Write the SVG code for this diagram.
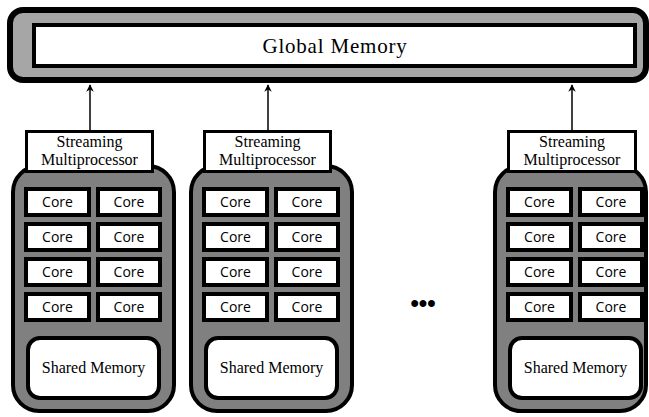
<svg xmlns="http://www.w3.org/2000/svg" xmlns:xlink="http://www.w3.org/1999/xlink" width="649" height="417" viewBox="0 0 649 417">
<style>
.gm-outer{fill:#a6a6a6;stroke:#000;stroke-width:6}
.gm-inner{fill:#fff;stroke:#000;stroke-width:4}
.cluster{fill:#808080;stroke:#000;stroke-width:4}
.label{fill:#fff;stroke:#000;stroke-width:3}
.core{fill:#fff;stroke:#000;stroke-width:4}
.shared{fill:#fff;stroke:#000;stroke-width:4}
.serif{font-family:"Liberation Serif","Times New Roman",serif;fill:#000;text-anchor:middle}
.sans{font-family:"Open Sans","Noto Sans",sans-serif;font-size:14px;fill:#000;text-anchor:middle}
.conn{stroke:#000;stroke-width:1.5;fill:none}
</style>
<defs>
<marker id="arrow" viewBox="0 0 10 10" refX="9" refY="5" markerWidth="5" markerHeight="5" orient="auto" markerUnits="strokeWidth">
<path d="M0,0 L10,5 L0,10 L3,5 Z" fill="#000"/>
</marker>
<g id="cores">
<rect class="core" x="26" y="189" width="63" height="26"/>
<rect class="core" x="98" y="189" width="62" height="26"/>
<rect class="core" x="26" y="224" width="63" height="26"/>
<rect class="core" x="98" y="224" width="62" height="26"/>
<rect class="core" x="26" y="259" width="63" height="26"/>
<rect class="core" x="98" y="259" width="62" height="26"/>
<rect class="core" x="26" y="294" width="63" height="26"/>
<rect class="core" x="98" y="294" width="62" height="26"/>
</g>
</defs>

<g id="global-memory">
<rect class="gm-outer" x="10" y="10" width="636" height="70" rx="13"/>
<rect class="gm-inner" x="34" y="25" width="601" height="41"/>
<text class="serif" x="335" y="53" font-size="21" letter-spacing="0.8">Global Memory</text>
</g>

<g id="connectors">
<path class="conn" d="M90,130 L90,85" marker-end="url(#arrow)"/>
<path class="conn" d="M268,130 L268,85" marker-end="url(#arrow)"/>
<path class="conn" d="M572,130 L572,85" marker-end="url(#arrow)"/>
</g>

<g id="sm1">
<rect class="cluster" x="13" y="166" width="161" height="245" rx="26"/>
<g id="sm1-label">
<rect class="label" x="26.5" y="131.5" width="126" height="40"/>
<text class="serif" font-size="16" x="89.5" y="147">Streaming</text>
<text class="serif" font-size="16" x="89.5" y="165">Multiprocessor</text>
</g>
<g id="sm1-cores">
<use xlink:href="#cores"/>
<text class="sans" x="57.5" y="207">Core</text><text class="sans" x="129" y="207">Core</text>
<text class="sans" x="57.5" y="242">Core</text><text class="sans" x="129" y="242">Core</text>
<text class="sans" x="57.5" y="277">Core</text><text class="sans" x="129" y="277">Core</text>
<text class="sans" x="57.5" y="312">Core</text><text class="sans" x="129" y="312">Core</text>
</g>
<g id="sm1-shared">
<rect class="shared" x="28" y="338" width="131" height="60" rx="12"/>
<text class="serif" font-size="16" x="93.5" y="373">Shared Memory</text>
</g>
</g>

<g id="sm2" transform="translate(178,0)">
<rect class="cluster" x="13" y="166" width="161" height="245" rx="26"/>
<g id="sm2-label">
<rect class="label" x="26.5" y="131.5" width="126" height="40"/>
<text class="serif" font-size="16" x="89.5" y="147">Streaming</text>
<text class="serif" font-size="16" x="89.5" y="165">Multiprocessor</text>
</g>
<g id="sm2-cores">
<use xlink:href="#cores"/>
<text class="sans" x="57.5" y="207">Core</text><text class="sans" x="129" y="207">Core</text>
<text class="sans" x="57.5" y="242">Core</text><text class="sans" x="129" y="242">Core</text>
<text class="sans" x="57.5" y="277">Core</text><text class="sans" x="129" y="277">Core</text>
<text class="sans" x="57.5" y="312">Core</text><text class="sans" x="129" y="312">Core</text>
</g>
<g id="sm2-shared">
<rect class="shared" x="28" y="338" width="131" height="60" rx="12"/>
<text class="serif" font-size="16" x="93.5" y="373">Shared Memory</text>
</g>
</g>

<g id="ellipsis">
<text x="423" y="311" font-family="Liberation Sans, Arial, sans-serif" font-size="24" font-weight="bold" text-anchor="middle">•••</text>
</g>

<g id="sm3" transform="translate(482,0)">
<rect class="cluster" x="13" y="166" width="151" height="245" rx="26"/>
<g id="sm3-label">
<rect class="label" x="26.5" y="131.5" width="127" height="40"/>
<text class="serif" font-size="16" x="90" y="147">Streaming</text>
<text class="serif" font-size="16" x="90" y="165">Multiprocessor</text>
</g>
<g id="sm3-cores">
<use xlink:href="#cores"/>
<text class="sans" x="57.5" y="207">Core</text><text class="sans" x="129" y="207">Core</text>
<text class="sans" x="57.5" y="242">Core</text><text class="sans" x="129" y="242">Core</text>
<text class="sans" x="57.5" y="277">Core</text><text class="sans" x="129" y="277">Core</text>
<text class="sans" x="57.5" y="312">Core</text><text class="sans" x="129" y="312">Core</text>
</g>
<g id="sm3-shared">
<rect class="shared" x="28" y="338" width="131" height="60" rx="12"/>
<text class="serif" font-size="16" x="93.5" y="373">Shared Memory</text>
</g>
</g>
</svg>
